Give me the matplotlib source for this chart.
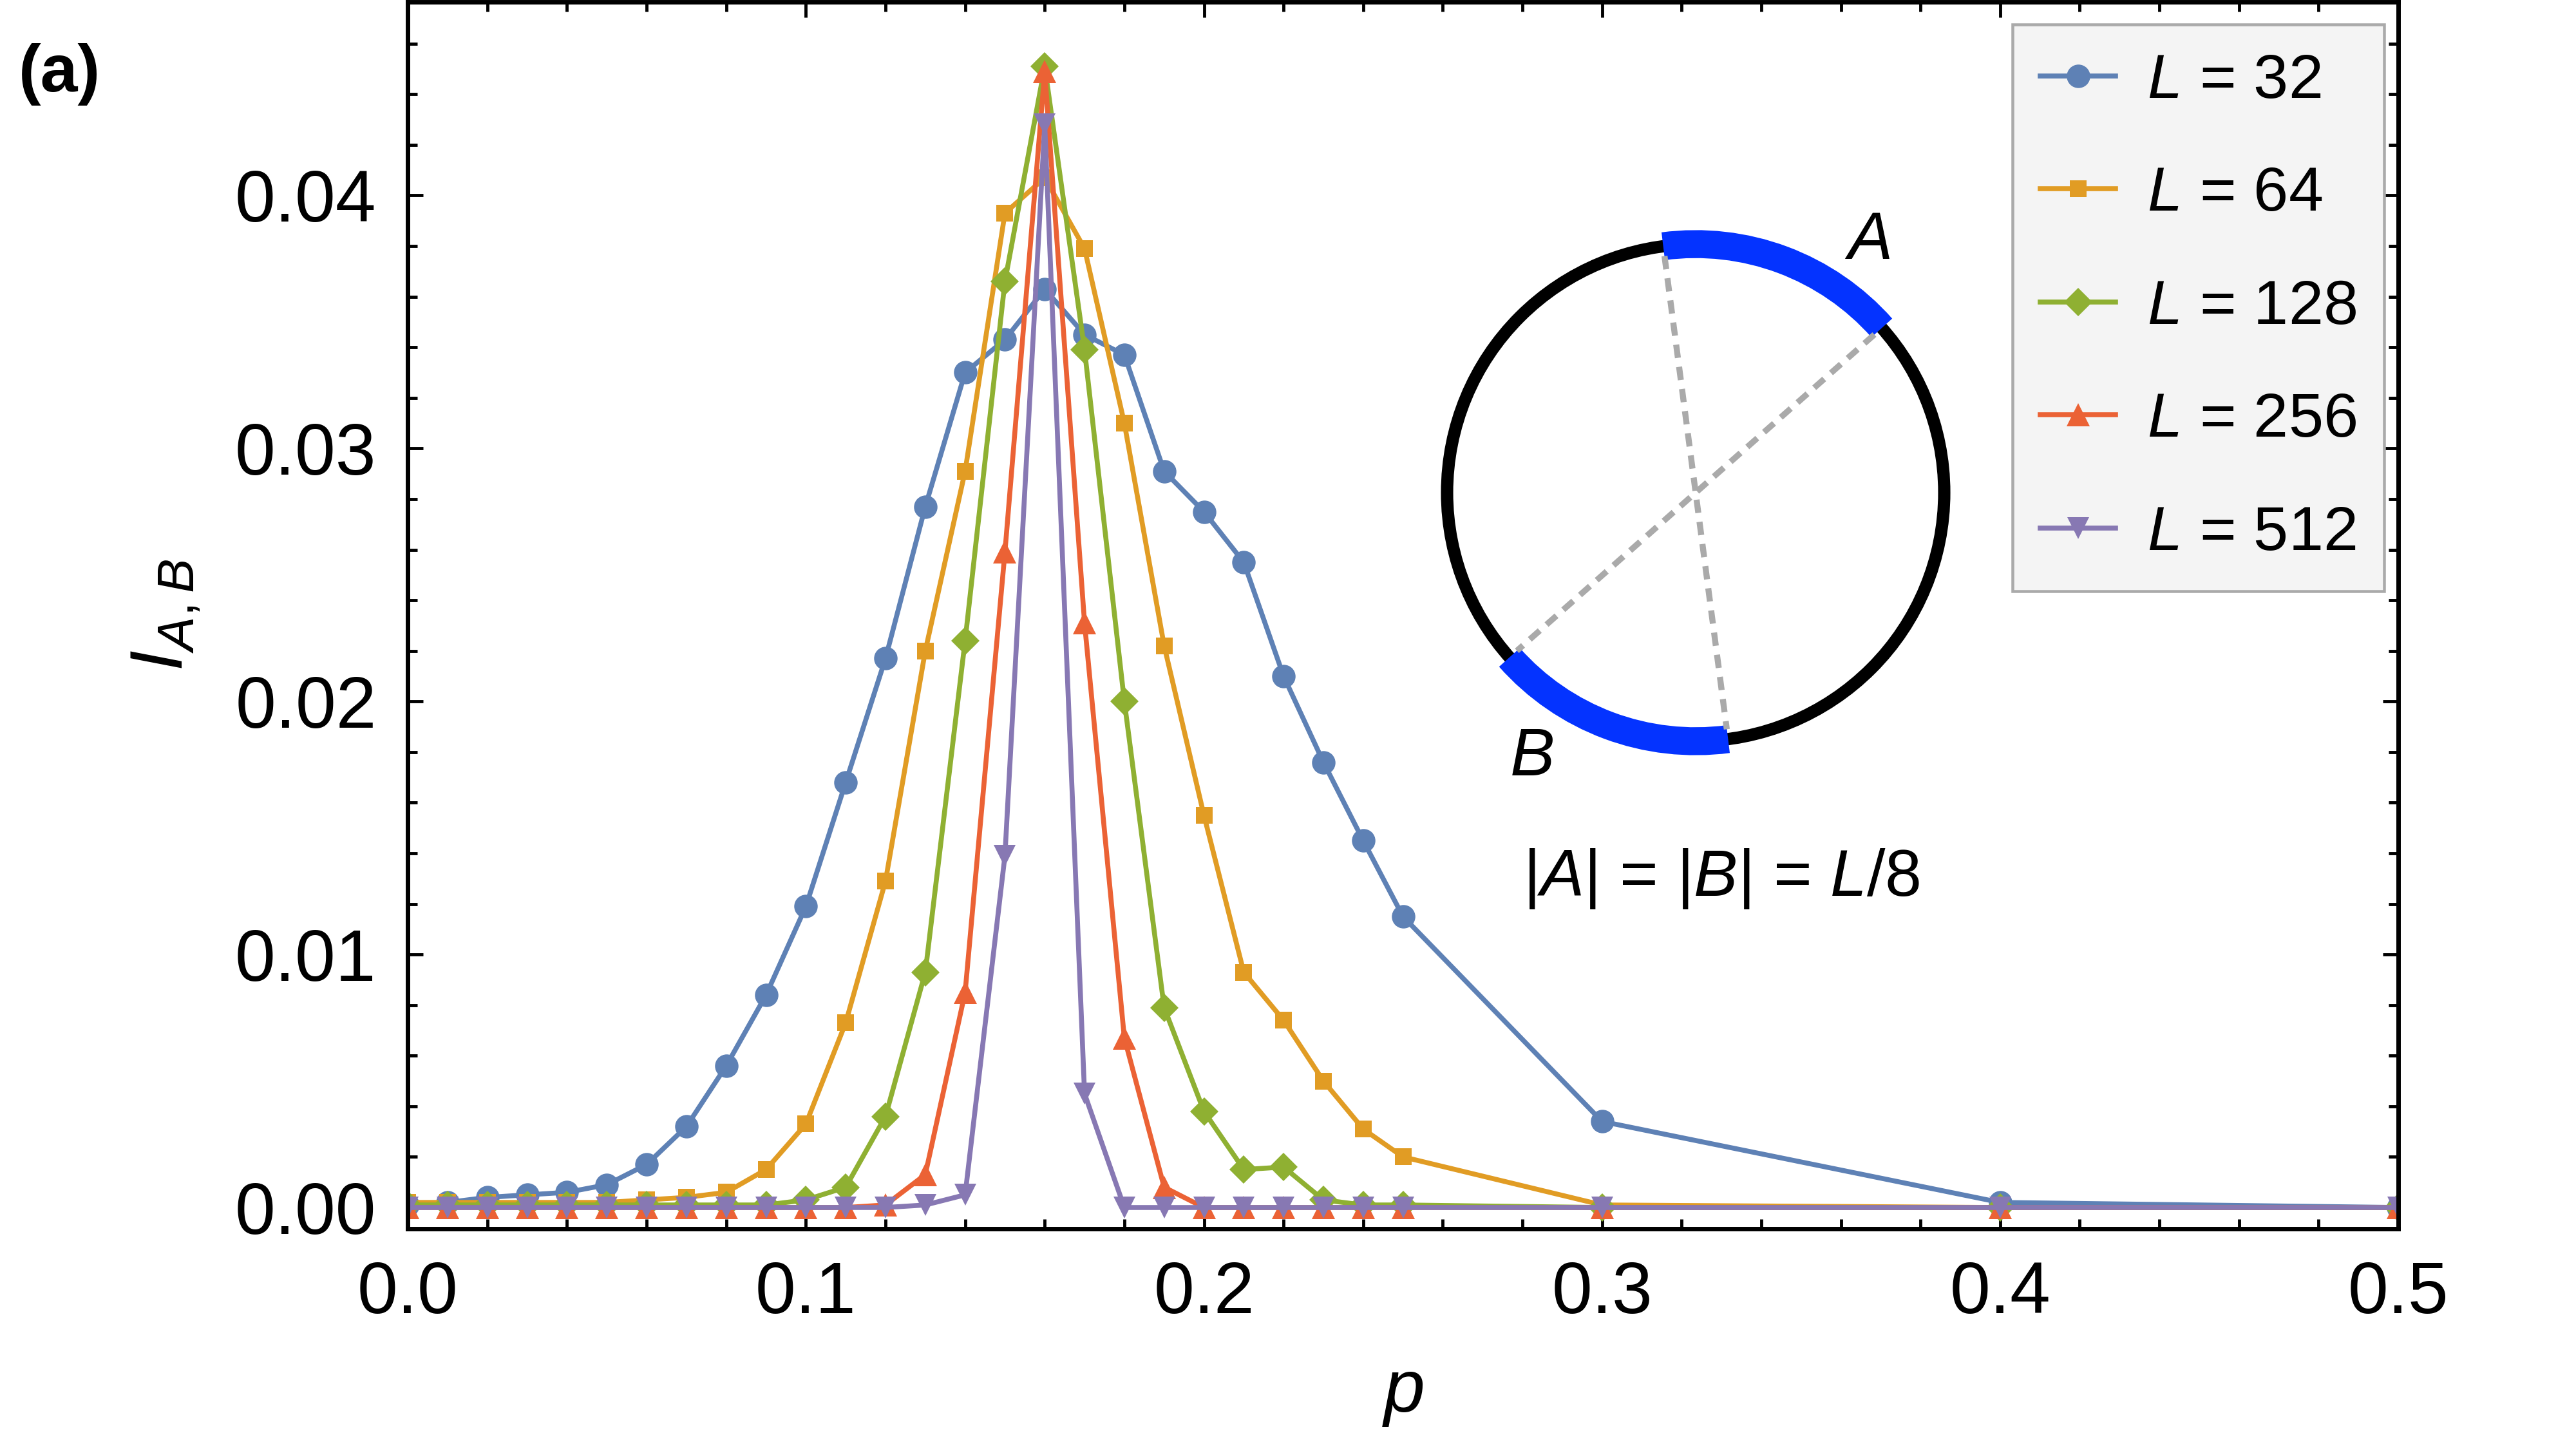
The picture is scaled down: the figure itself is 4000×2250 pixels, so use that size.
import matplotlib
matplotlib.use("Agg")
import matplotlib.pyplot as plt
from matplotlib import patches
from matplotlib.ticker import MultipleLocator, FixedLocator
import numpy as np

plt.rcParams['font.family'] = ['Liberation Sans', 'DejaVu Sans']
plt.rcParams['mathtext.fontset'] = 'custom'
plt.rcParams['mathtext.rm'] = 'Liberation Sans'
plt.rcParams['mathtext.it'] = 'Liberation Sans:italic'
plt.rcParams['mathtext.bf'] = 'Liberation Sans:bold'

# data
p = [0.00, 0.01, 0.02, 0.03, 0.04, 0.05, 0.06, 0.07, 0.08, 0.09,
     0.10, 0.11, 0.12, 0.13, 0.14, 0.15, 0.16, 0.17, 0.18, 0.19,
     0.20, 0.21, 0.22, 0.23, 0.24, 0.25, 0.30, 0.40, 0.50]

I_L32 = [0.0001, 0.0002, 0.0004, 0.0005, 0.0006, 0.0009, 0.0017, 0.0032, 0.0056, 0.0084,
         0.0119, 0.0168, 0.0217, 0.0277, 0.0330, 0.0343, 0.0363, 0.0345, 0.0337, 0.0291,
         0.0275, 0.0255, 0.0210, 0.0176, 0.0145, 0.0115, 0.0034, 0.0002, 0.0000]
I_L64 = [0.0002, 0.0002, 0.0002, 0.0002, 0.0002, 0.0002, 0.0003, 0.0004, 0.0006, 0.0015,
         0.0033, 0.0073, 0.0129, 0.0220, 0.0291, 0.0393, 0.0407, 0.0379, 0.0310, 0.0222,
         0.0155, 0.0093, 0.0074, 0.0050, 0.0031, 0.0020, 0.0001, 0.0000, 0.0000]
I_L128 = [0.0001, 0.0001, 0.0001, 0.0001, 0.0001, 0.0001, 0.0001, 0.0001, 0.0001, 0.0001,
          0.0003, 0.0008, 0.0036, 0.0093, 0.0224, 0.0366, 0.0451, 0.0339, 0.0200, 0.0079,
          0.0038, 0.0015, 0.0016, 0.0003, 0.0001, 0.0001, 0.0000, 0.0000, 0.0000]
I_L256 = [0.0, 0.0, 0.0, 0.0, 0.0, 0.0, 0.0, 0.0, 0.0, 0.0,
          0.0, 0.0, 0.0001, 0.0013, 0.0085, 0.0259, 0.0449, 0.0231, 0.0067, 0.0008,
          0.0, 0.0, 0.0, 0.0, 0.0, 0.0, 0.0, 0.0, 0.0]
I_L512 = [0.0, 0.0, 0.0, 0.0, 0.0, 0.0, 0.0, 0.0, 0.0, 0.0,
          0.0, 0.0, 0.0, 0.0001, 0.0005, 0.0139, 0.0428, 0.0045, 0.0, 0.0,
          0.0, 0.0, 0.0, 0.0, 0.0, 0.0, 0.0, 0.0, 0.0]

sizes = [32, 64, 128, 256, 512]
series = [I_L32, I_L64, I_L128, I_L256, I_L512]
colors = ['#5e81b5', '#e19c24', '#8fb032', '#eb6235', '#8778b3']
markers = ['o', 's', 'D', '^', 'v']
msizes = [10.5, 7.4, 8.8, 10.2, 9.6]

xticks = [0.0, 0.1, 0.2, 0.3, 0.4, 0.5]
yticks = [0.00, 0.01, 0.02, 0.03, 0.04]

# inset sketch: subsystem A arc (degrees), B is antipodal
arcA = (41.5, 97.5)
arcB = (arcA[0] + 180, arcA[1] + 180)

fig = plt.figure(figsize=(16, 9), dpi=250)
ax = fig.add_axes([0.1583, 0.152, 0.7727, 0.8467])

for L, y, c, m, ms in zip(sizes, series, colors, markers, msizes):
    ax.plot(p, y, color=c, marker=m, markersize=ms, lw=2.2,
            markeredgewidth=0, label=r'$L$ = %d' % L, clip_on=True)

ax.set_xlim(0, 0.5)
ax.set_ylim(-0.00084, 0.04765)
ax.xaxis.set_major_locator(FixedLocator(xticks))
ax.yaxis.set_major_locator(FixedLocator(yticks))
ax.xaxis.set_minor_locator(MultipleLocator(0.02))
ax.yaxis.set_minor_locator(MultipleLocator(0.002))
ax.set_xticklabels(['%.1f' % v for v in xticks])
ax.set_yticklabels(['%.2f' % v for v in yticks])
ax.tick_params(which='both', direction='in', top=True, right=True, width=1.4)
ax.tick_params(which='major', length=7, labelsize=32.5, pad=14)
ax.tick_params(which='minor', length=4.2)
for s in ax.spines.values():
    s.set_linewidth(2.0)

ax.set_xlabel(r'$p$', fontsize=33, labelpad=14)
ax.set_ylabel(r'$I_{A,B}$', fontsize=33, labelpad=15)

leg = ax.legend(loc='upper right', bbox_to_anchor=(0.993, 0.9816), borderaxespad=0,
                fontsize=28, fancybox=False, edgecolor='#aaaaaa', facecolor='#f4f4f4',
                framealpha=1, handlelength=1.2, handletextpad=0.5, labelspacing=0.88,
                borderpad=0.45, numpoints=1)
leg.get_frame().set_linewidth(1.3)

ax.text(0.33, 0.0130, r'$|A|$ = $|B|$ = $L$/8', fontsize=29.5, ha='center', va='center')

fig.text(92 / 4000, 1 - 115 / 2250, '(a)', fontsize=30, fontweight='bold',
         ha='center', va='center')

# ring sketch
ins = fig.add_axes([0.5328, 0.4370, 0.2509, 0.4460])
ins.set_xlim(-1.3, 1.3)
ins.set_ylim(-1.3, 1.3)
ins.axis('off')
ins.add_patch(patches.Circle((0, 0), 1, fill=False, lw=5.5, color='black'))
for a1, a2 in [(arcA[0], arcB[0]), (arcA[1], arcB[1])]:
    t1, t2 = np.radians(a1), np.radians(a2)
    ins.plot([0.96 * np.cos(t1), 0.96 * np.cos(t2)], [0.96 * np.sin(t1), 0.96 * np.sin(t2)],
             color='#aaaaaa', lw=2.7, dashes=(2.2, 1.5))
for th in [arcA, arcB]:
    ins.add_patch(patches.Arc((0, 0), 2, 2, theta1=th[0], theta2=th[1], lw=12.5,
                              color='#0433ff', capstyle='butt'))
ins.text(0.69, 1.01, r'$A$', fontsize=30, ha='center', va='center')
ins.text(-0.66, -1.07, r'$B$', fontsize=30, ha='center', va='center')

fig.savefig('out.png', dpi=250)
